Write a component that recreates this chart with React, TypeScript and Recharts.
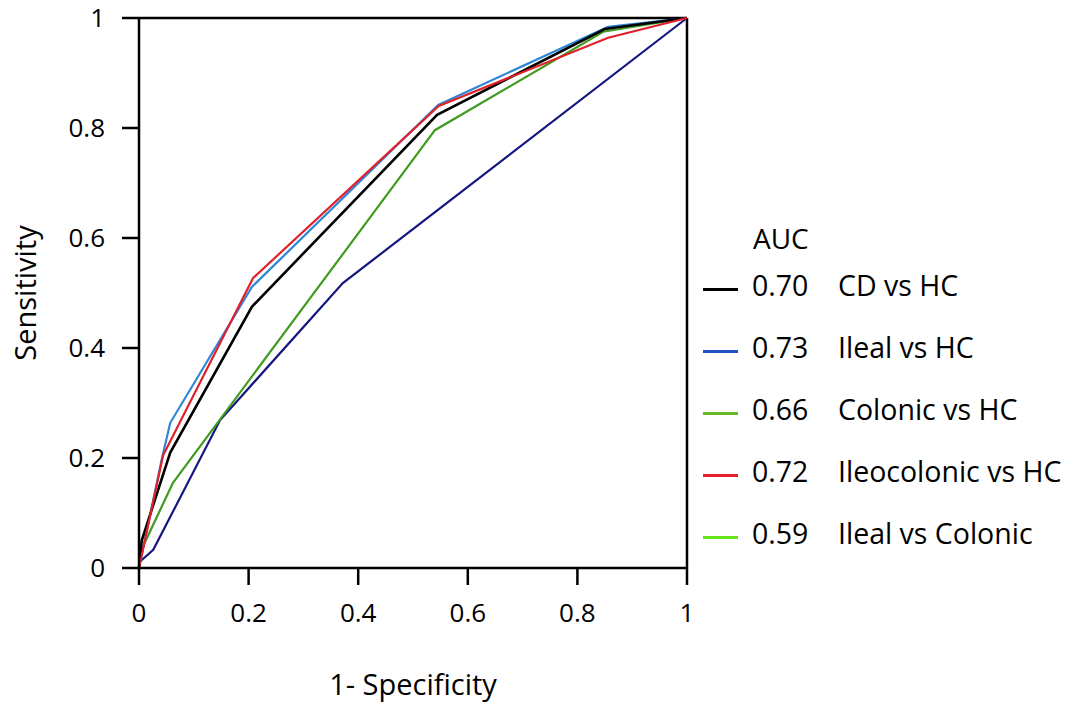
import React from 'react';
import { LineChart, Line, XAxis, YAxis, ReferenceLine } from 'recharts';

// 1 - specificity (x) and sensitivity (y) points
const CD_X = [0, 0.005, 0.057, 0.206, 0.544, 0.85, 1];
const CD_Y = [0, 0.05, 0.21, 0.475, 0.824, 0.98, 1];

const ILEAL_X = [0, 0.042, 0.057, 0.206, 0.546, 0.856, 1];
const ILEAL_Y = [0, 0.2, 0.264, 0.511, 0.842, 0.984, 1];

const COLONIC_X = [0, 0.01, 0.062, 0.54, 0.847, 1];
const COLONIC_Y = [0.01, 0.045, 0.155, 0.796, 0.975, 1];

const ILEOCOLONIC_X = [0, 0.044, 0.208, 0.547, 0.856, 1];
const ILEOCOLONIC_Y = [0, 0.205, 0.527, 0.84, 0.964, 1];

const ILEAL_COLONIC_X = [0, 0.026, 0.148, 0.372, 1];
const ILEAL_COLONIC_Y = [0.01, 0.033, 0.269, 0.518, 1];

const TICKS = [0, 0.2, 0.4, 0.6, 0.8, 1];

const LEGEND_AUC = ['0.70', '0.73', '0.66', '0.72', '0.59'];
const LEGEND_NAMES = ['CD vs HC', 'Ileal vs HC', 'Colonic vs HC', 'Ileocolonic vs HC', 'Ileal vs Colonic'];
const LEGEND_COLORS = ['#000000', '#1f4fc0', '#6ab82a', '#e8202a', '#66e61a'];

const toPoints = (xs: number[], ys: number[]) => xs.map((x, i) => ({ x, y: ys[i] }));

const series = [
  { name: 'Ileal vs Colonic', data: toPoints(ILEAL_COLONIC_X, ILEAL_COLONIC_Y), color: '#161680', width: 2.2 },
  { name: 'Colonic vs HC', data: toPoints(COLONIC_X, COLONIC_Y), color: '#3f9c1f', width: 2.2 },
  { name: 'Ileal vs HC', data: toPoints(ILEAL_X, ILEAL_Y), color: '#2d86d8', width: 2.2 },
  { name: 'CD vs HC', data: toPoints(CD_X, CD_Y), color: '#000000', width: 2.6 },
  { name: 'Ileocolonic vs HC', data: toPoints(ILEOCOLONIC_X, ILEOCOLONIC_Y), color: '#e0202a', width: 2.2 },
];

const FONT = '"Open Sans", sans-serif';
const fmt = (v: number) => String(v);

const App: React.FC = () => {
  return (
    <div style={{ position: 'absolute', left: 0, top: 0, width: 1083, height: 703, background: '#fff', fontFamily: FONT }}>
      <LineChart width={1083} height={703} margin={{ top: 18, right: 396, bottom: 0, left: 0 }}>
        <XAxis
          type="number"
          dataKey="x"
          domain={[0, 1]}
          ticks={TICKS}
          tickFormatter={fmt}
          height={135}
          tickSize={17}
          tickMargin={19}
          axisLine={{ stroke: '#000', strokeWidth: 2.5 }}
          tickLine={{ stroke: '#000', strokeWidth: 2.5 }}
          tick={{ fill: '#000', fontSize: 26, fontFamily: FONT }}
          allowDuplicatedCategory={false}
          label={{ value: '1- Specificity', position: 'insideBottom', offset: 8, fill: '#000', fontSize: 29, fontFamily: FONT }}
        />
        <YAxis
          type="number"
          dataKey="y"
          domain={[0, 1]}
          ticks={TICKS}
          tickFormatter={fmt}
          width={139}
          tickSize={17}
          tickMargin={17}
          axisLine={{ stroke: '#000', strokeWidth: 2.5 }}
          tickLine={{ stroke: '#000', strokeWidth: 2.5 }}
          tick={{ fill: '#000', fontSize: 26, fontFamily: FONT }}
          label={{
            value: 'Sensitivity',
            angle: -90,
            position: 'insideLeft',
            offset: 26,
            fill: '#000',
            fontSize: 29,
            fontFamily: FONT,
            style: { textAnchor: 'middle' },
          }}
        />
        <ReferenceLine y={1} stroke="#000" strokeWidth={2.5} />
        <ReferenceLine x={1} stroke="#000" strokeWidth={2.5} />
        {series.map((s) => (
          <Line
            key={s.name}
            data={s.data}
            dataKey="y"
            type="linear"
            stroke={s.color}
            strokeWidth={s.width}
            dot={false}
            activeDot={false}
            isAnimationActive={false}
          />
        ))}
      </LineChart>

      <div style={{ position: 'absolute', left: 753, top: 219, fontSize: 28, lineHeight: '38px', color: '#000' }}>AUC</div>
      {LEGEND_NAMES.map((name, i) => {
        const cy = 285 + i * 62;
        return (
          <React.Fragment key={name}>
            <div style={{ position: 'absolute', left: 703, top: cy + 3, width: 35, height: 2.5, background: LEGEND_COLORS[i] }} />
            <div style={{ position: 'absolute', left: 752, top: cy - 20, fontSize: 28.5, lineHeight: '40px', color: '#000', whiteSpace: 'nowrap' }}>
              {LEGEND_AUC[i]}
            </div>
            <div style={{ position: 'absolute', left: 838, top: cy - 20, fontSize: 28.5, lineHeight: '40px', color: '#000', whiteSpace: 'nowrap' }}>
              {name}
            </div>
          </React.Fragment>
        );
      })}
    </div>
  );
};

export default App;
